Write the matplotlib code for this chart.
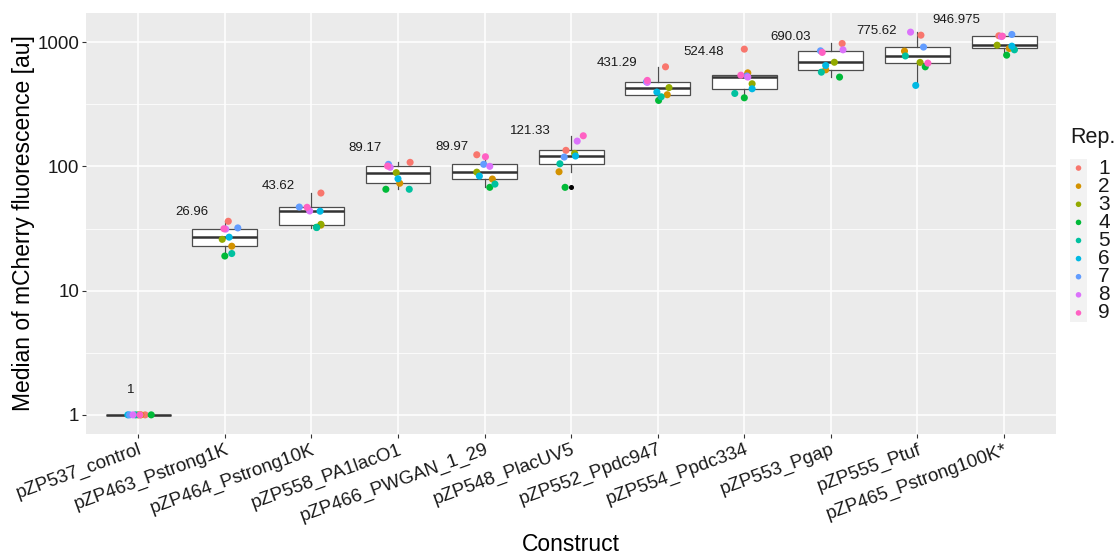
import numpy as np
import matplotlib
matplotlib.use("Agg")
import matplotlib.pyplot as plt
from matplotlib import cbook

plt.rcParams['font.family'] = ['Liberation Sans', 'DejaVu Sans']

constructs = ["pZP537_control", "pZP463_Pstrong1K", "pZP464_Pstrong10K", "pZP558_PA1lacO1",
              "pZP466_PWGAN_1_29", "pZP548_PlacUV5", "pZP552_Ppdc947", "pZP554_Ppdc334",
              "pZP553_Pgap", "pZP555_Ptuf", "pZP465_Pstrong100K*"]
reps = ["1", "2", "3", "4", "5", "6", "7", "8", "9"]
rep_colors = ["#F8766D", "#D39200", "#93AA00", "#00BA38", "#00C19F",
              "#00B9E3", "#619CFF", "#DB72FB", "#FF61C3"]

# median fluorescence per replicate (rep 1..9)
fluor = [
    [1, 1, 1, 1, 1, 1, 1, 1, 1],
    [36.2, 22.8, 25.9, 19.0, 19.9, 26.96, 32.0, 31.3, 31.5],
    [61.1, 33.7, 34.2, 32.4, 32.2, 43.62, 47.1, 43.8, 46.9],
    [107.9, 73.2, 89.17, 65.5, 65.5, 79.6, 104, 98.4, 100.7],
    [124.2, 79.2, 89.97, 67.9, 72.1, 83.7, 104, 100.2, 119.7],
    [134.8, 90.6, 127.4, 67.9, 105.1, 121.33, 119, 160, 176.6],
    [634, 378, 431.29, 340, 364, 397, 480, 475, 493],
    [880, 567, 463, 357, 387, 422, 535, 524.48, 543],
    [977, 600, 690.03, 524, 574, 650, 853, 869, 828],
    [1140, 848, 688, 634, 775.62, 449, 914, 1206, 679],
    [1127, 891, 946.975, 787, 869, 930, 1155, 1110, 1120],
]
# horizontal jitter of each point (category units), as seen in the picture
jitter = [
    [0.08, 0.03, 0.0, 0.15, -0.03, -0.12, -0.10, -0.06, 0.02],
    [0.04, 0.08, -0.03, 0.0, 0.08, 0.05, 0.15, 0.01, -0.01],
    [0.11, 0.11, 0.11, 0.06, 0.06, 0.10, -0.14, -0.02, -0.05],
    [0.14, 0.02, -0.02, -0.14, 0.13, 0.0, -0.11, -0.09, -0.12],
    [-0.09, 0.09, -0.09, 0.06, 0.12, -0.06, -0.01, 0.06, 0.01],
    [-0.06, -0.14, 0.04, -0.07, -0.13, 0.05, -0.08, 0.07, 0.14],
    [0.09, 0.11, 0.13, 0.01, 0.04, -0.01, -0.13, -0.12, -0.12],
    [0.0, 0.04, 0.09, 0.0, -0.11, 0.09, 0.03, 0.04, -0.04],
    [0.13, -0.06, 0.04, 0.10, -0.11, -0.06, -0.12, 0.14, -0.10],
    [0.04, -0.15, 0.03, 0.09, -0.14, -0.02, 0.07, -0.08, 0.12],
    [-0.06, 0.06, -0.08, 0.03, 0.12, 0.09, 0.09, -0.03, -0.02],
]
median_labels = ["1", "26.96", "43.62", "89.17", "89.97", "121.33",
                 "431.29", "524.48", "690.03", "775.62", "946.975"]

W, H = 1117, 556
fig = plt.figure(figsize=(W / 100, H / 100), dpi=100)
ax = fig.add_axes([86.3 / W, 1 - 434 / H, (1056 - 86.3) / W, (434 - 13) / H])
ax.set_facecolor("#EBEBEB")
for s in ax.spines.values():
    s.set_visible(False)

# boxplot stats on log10 scale (like ggplot scale_y_log10), back-transformed
stats = []
for vals in fluor:
    st = cbook.boxplot_stats(np.log10(vals), whis=1.5)[0]
    for k in ("med", "q1", "q3", "whislo", "whishi", "mean"):
        st[k] = 10 ** st[k]
    st["fliers"] = 10 ** np.asarray(st["fliers"])
    stats.append(st)

pos = np.arange(len(constructs))
ax.bxp(stats, positions=pos, widths=0.75, patch_artist=True, showcaps=False,
       boxprops=dict(facecolor="white", edgecolor="#4D4D4D", linewidth=0.9),
       whiskerprops=dict(color="#4D4D4D", linewidth=0.9),
       medianprops=dict(color="#333333", linewidth=1.8),
       flierprops=dict(marker="o", markerfacecolor="black", markeredgecolor="black",
                       markersize=2.6, linestyle="none"),
       zorder=2)

for i, vals in enumerate(fluor):
    xs = pos[i] + np.array(jitter[i])
    ax.scatter(xs, vals, c=rep_colors, s=26, linewidths=0, zorder=3)

ax.set_yscale("log")
lo = np.log10(min(min(v) for v in fluor))
hi = np.log10(max(max(v) for v in fluor))
pad = (hi - lo) * 0.05
ax.set_ylim(10 ** (lo - pad), 10 ** (hi + pad))
ax.set_xlim(-0.6, len(constructs) - 0.4)

ax.set_yticks([1, 10, 100, 1000])
ax.set_yticklabels(["1", "10", "100", "1000"])
ax.set_yticks([10 ** 0.5, 10 ** 1.5, 10 ** 2.5], minor=True)
ax.yaxis.set_minor_formatter(plt.NullFormatter())
ax.set_xticks(pos)
ax.set_xticklabels(constructs, rotation=20, ha="right", rotation_mode="anchor")

ax.grid(True, which="major", color="white", linewidth=1.1, zorder=0)
ax.grid(True, which="minor", axis="y", color="white", linewidth=0.55, zorder=0)
ax.set_axisbelow(True)
ax.tick_params(which="major", length=3, width=0.8, color="#333333",
               labelsize=13.5, labelcolor="#1A1A1A", pad=2)
ax.tick_params(which="minor", length=0)

ax.set_xlabel("Construct", fontsize=16.5, labelpad=6)
ax.set_ylabel("Median of mCherry fluorescence [au]", fontsize=16.5, labelpad=2)

# median labels above each box, ggplot hjust=1.5 style
texts = []
for i, st in enumerate(stats):
    t = ax.annotate(median_labels[i], xy=(pos[i], st["med"]), xytext=(0, 25),
                    textcoords="offset pixels", ha="right", va="center",
                    fontsize=9.5, color="#1A1A1A", zorder=4)
    texts.append(t)
fig.canvas.draw()
r = fig.canvas.get_renderer()
for t in texts:
    w = t.get_window_extent(r).width
    t.xyann = (-w / 2, 25)

# legend drawn as a small key column (ggplot style)
lax = fig.add_axes([1070 / W, 1 - 322 / H, 17 / W, 163 / H])
lax.set_facecolor("#F2F2F2")
for s in lax.spines.values():
    s.set_visible(False)
lax.set_xticks([])
lax.set_yticks([])
lax.set_xlim(-0.5, 0.5)
lax.set_ylim(len(reps) - 0.5, -0.5)
ry = np.arange(len(reps))
lax.scatter(np.zeros(len(reps)), ry, c=rep_colors, s=16, linewidths=0)
for k, lab in enumerate(reps):
    lax.text(1.65, ry[k], lab, transform=lax.get_yaxis_transform(),
             ha="left", va="center", fontsize=15, color="#1A1A1A", clip_on=False)
fig.text(1070 / W, 1 - 137 / H, "Rep.", ha="left", va="center", fontsize=15.5,
         color="#1A1A1A")

fig.savefig("out.png", dpi=100)
